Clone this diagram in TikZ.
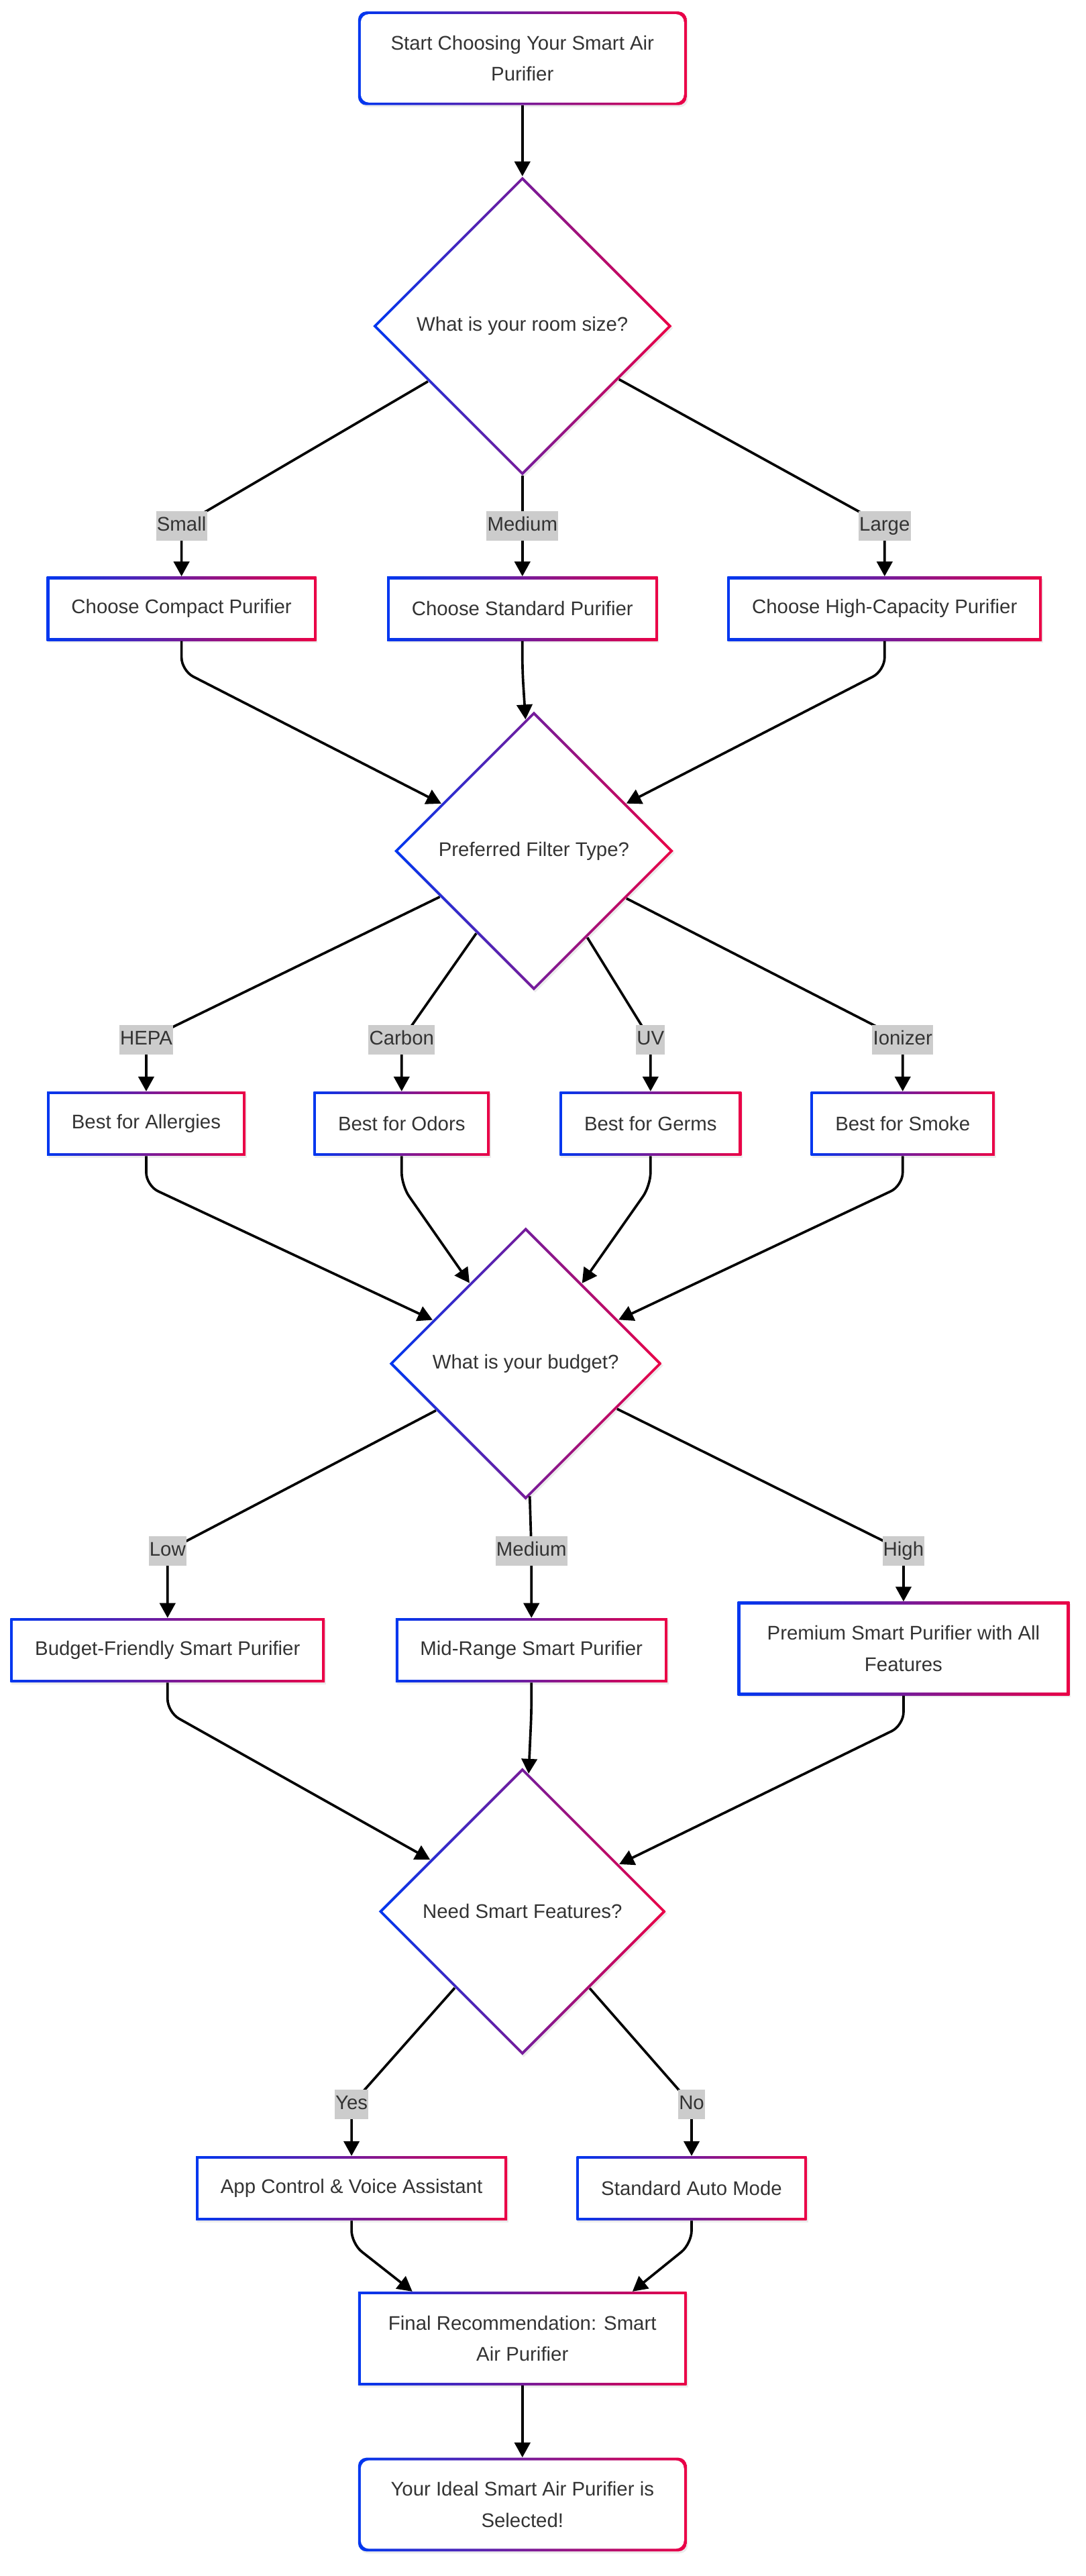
\documentclass[tikz,border=0pt]{standalone}
\usepackage{fontspec}
\setmainfont{Liberation Sans}
\usetikzlibrary{
    arrows.meta,
    shapes.geometric,
    shadows
}
\definecolor{gradBlue}{RGB}{0, 55, 240}
\definecolor{gradRed}{RGB}{235, 0, 70}
\definecolor{inkGray}{RGB}{51, 51, 51}
\definecolor{tagGray}{RGB}{204, 204, 204}
\newcommand{\flowfont}{\fontsize{12pt}{19pt}\selectfont}

\tikzset{
    softshadow/.style={drop shadow={opacity=0.15, shadow xshift=0.8pt, shadow yshift=-1.2pt}},
    gbox/.style={rectangle, fill=white, text=inkGray, font=\flowfont,
        inner xsep=15pt, inner ysep=0pt, minimum height=39pt, softshadow,
        path picture={
            \shade[left color=gradBlue, right color=gradRed]
                (path picture bounding box.south west) rectangle (path picture bounding box.north east);
            \fill[white]
                ([shift={(1.6pt,1.6pt)}]path picture bounding box.south west) rectangle
                ([shift={(-1.6pt,-1.6pt)}]path picture bounding box.north east);
        }},
    twoline/.style={align=center, minimum width=200pt, minimum height=57pt},
    rbox/.style={gbox, twoline, rounded corners=5pt},
    gdia/.style={diamond, aspect=1, fill=white, text=inkGray, font=\flowfont,
        inner sep=0pt, softshadow,
        path picture={
            \shade[left color=gradBlue, right color=gradRed]
                (path picture bounding box.south west) rectangle (path picture bounding box.north east);
            \fill[white]
                ([xshift=2.3pt]path picture bounding box.west) -- ([yshift=-2.3pt]path picture bounding box.north) --
                ([xshift=-2.3pt]path picture bounding box.east) -- ([yshift=2.3pt]path picture bounding box.south) -- cycle;
        }},
    lbl/.style={fill=tagGray, text=inkGray, font=\flowfont, sharp corners,
        inner xsep=0.5pt, inner ysep=3pt, text height=9pt, text depth=3pt},
    flow/.style={->, line width=1.5pt, rounded corners=8pt}
}

\begin{document}
\begin{tikzpicture}[x=1pt, y=-1pt, >={Triangle[length=9pt, width=9.5pt]}]
        \useasboundingbox (0,0) rectangle (661,1568);

        % Label rows
        \coordinate (r1) at (0, 320);
        \coordinate (r2) at (0, 633);
        \coordinate (r3) at (0, 944);
        \coordinate (r4) at (0, 1281);

        % Start and room size
        \node[rbox] (start) at (318, 35.5) {Start Choosing Your Smart Air\\Purifier};
        \node[gdia, minimum size=182pt] (room) at (318, 198.5) {What is your room size?};

        \node[gbox] (compact) at (110.5, 370.5) {Choose Compact Purifier};
        \node[gbox] (standard) at (318, 370.5) {Choose Standard Purifier};
        \node[gbox] (hicap) at (538.5, 370.5) {Choose High-Capacity Purifier};

        % Filter type
        \node[gdia, minimum size=170pt] (filter) at (325, 518) {Preferred Filter Type?};

        \node[gbox] (allergy) at (89, 684) {Best for Allergies};
        \node[gbox] (odor) at (244.5, 684) {Best for Odors};
        \node[gbox] (germ) at (396, 684) {Best for Germs};
        \node[gbox] (smoke) at (549.5, 684) {Best for Smoke};

        % Budget
        \node[gdia, minimum size=166pt] (budget) at (320, 830) {What is your budget?};

        \node[gbox] (low) at (102, 1004.5) {Budget-Friendly Smart Purifier};
        \node[gbox] (mid) at (323.5, 1004.5) {Mid-Range Smart Purifier};
        \node[gbox, twoline, minimum width=202pt] (premium) at (550, 1003.5) {Premium Smart Purifier with All\\Features};

        % Smart features
        \node[gdia, minimum size=175pt] (smart) at (318, 1163.5) {Need Smart Features?};

        \node[gbox] (app) at (214, 1332) {App Control \& Voice Assistant};
        \node[gbox] (auto) at (421, 1332) {Standard Auto Mode};

        % End
        \node[gbox, twoline] (final) at (318, 1423.5) {Final Recommendation: Smart\\Air Purifier};
        \node[rbox] (done) at (318, 1524.5) {Your Ideal Smart Air Purifier is\\Selected!};

        % Edges
        \draw[flow] (start) -- (room);

        \draw[flow] (room) -- (compact |- r1) node[lbl] {Small} -- (compact);
        \draw[flow] (room) -- (standard |- r1) node[lbl] {Medium} -- (standard);
        \draw[flow] (room) -- (hicap |- r1) node[lbl] {Large} -- (hicap);

        \draw[flow] (compact.south) -- ++(0,18) -- (filter);
        \draw[flow] (standard.south) -- ++(0,18) -- (filter);
        \draw[flow] (hicap.south) -- ++(0,18) -- (filter);

        \draw[flow] (filter) -- (allergy |- r2) node[lbl] {HEPA} -- (allergy);
        \draw[flow] (filter) -- (odor |- r2) node[lbl] {Carbon} -- (odor);
        \draw[flow] (filter) -- (germ |- r2) node[lbl] {UV} -- (germ);
        \draw[flow] (filter) -- (smoke |- r2) node[lbl] {Ionizer} -- (smoke);

        \draw[flow] (allergy.south) -- ++(0,18) -- (budget);
        \draw[flow] (odor.south) -- ++(0,18) -- (budget);
        \draw[flow] (germ.south) -- ++(0,18) -- (budget);
        \draw[flow] (smoke.south) -- ++(0,18) -- (budget);

        \draw[flow] (budget) -- (low |- r3) node[lbl] {Low} -- (low);
        \draw[flow] (budget) -- (mid |- r3) node[lbl] {Medium} -- (mid);
        \draw[flow] (budget) -- (premium |- r3) node[lbl] {High} -- (premium);

        \draw[flow] (low.south) -- ++(0,18) -- (smart);
        \draw[flow] (mid.south) -- ++(0,18) -- (smart);
        \draw[flow] (premium.south) -- ++(0,18) -- (smart);

        \draw[flow] (smart) -- (app |- r4) node[lbl] {Yes} -- (app);
        \draw[flow] (smart) -- (auto |- r4) node[lbl] {No} -- (auto);

        \draw[flow] (app.south) -- ++(0,14) -- ([xshift=-67pt]final.north);
        \draw[flow] (auto.south) -- ++(0,14) -- ([xshift=67pt]final.north);

        \draw[flow] (final) -- (done);
    \end{tikzpicture}
\end{document}
